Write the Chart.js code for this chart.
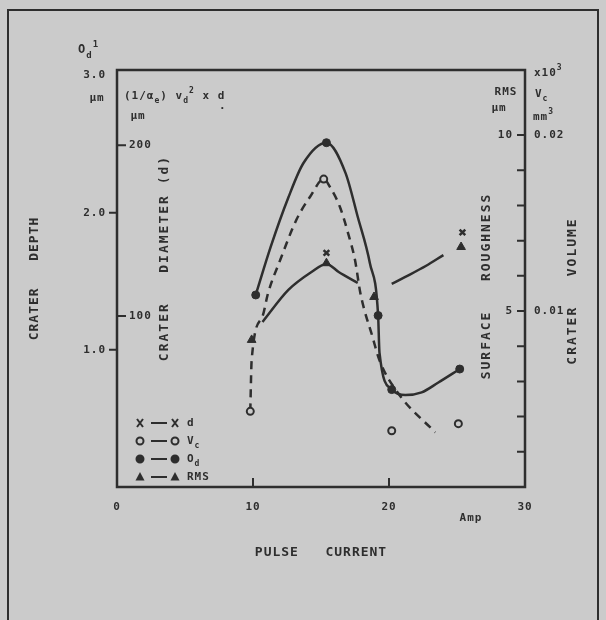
<!DOCTYPE html>
<html lang="en">
<head>
<meta charset="UTF-8">
<title>Crater size and surface roughness vs pulse current</title>
<script src="https://cdn.jsdelivr.net/npm/chart.js"></script>
<style>
  body { margin: 0; background: #cbcbcb; }
  .wrap { position: relative; width: 606px; height: 620px; }
</style>
</head>
<body>
<div class="wrap"><canvas id="chart"></canvas></div>
<script>
// values (pulse current in A)
const currentTicks = [0, 10, 20, 30];
const depthTicks = [1, 2, 3];
const diameterTicks = [100, 200];
const rmsTicks = [1, 2, 3, 4, 5, 6, 7, 8, 9, 10];
const rmsLabelled = [5, 10];
const volumeTicks = [0.01, 0.02];

// crater depth (filled circles, solid curve)
const depthX = [10.2, 15.4, 19.2, 20.2, 25.2];
const depthY = [1.40, 2.51, 1.25, 0.71, 0.86];
const depthCurveX = [10.2, 11.3, 12.6, 13.7, 15.4, 16.8, 17.7, 18.6, 19.2, 19.3, 20.2, 21.2, 22.4, 23.6, 25.2];
const depthCurveY = [1.40, 1.75, 2.11, 2.36, 2.51, 2.29, 1.97, 1.63, 1.25, 0.98, 0.71, 0.67, 0.69, 0.76, 0.86];

// crater volume (open circles, dashed curve)
const volumeX = [9.8, 15.2, 20.2, 25.1];
const volumeY = [0.0043, 0.0175, 0.0032, 0.0036];
const volumeCurveX = [9.8, 9.9, 10.7, 11.1, 12.0, 13.2, 14.2, 15.2, 15.7, 16.4, 17.0, 17.5, 17.9, 18.8, 19.3, 20.7, 23.4];
const volumeCurveY = [0.0043, 0.0072, 0.0097, 0.0110, 0.0129, 0.0152, 0.0165, 0.0175, 0.0170, 0.0159, 0.0144, 0.0129, 0.0110, 0.0085, 0.0072, 0.0053, 0.0031];

// surface roughness RMS (triangles, solid curve with a break)
const rmsX = [9.9, 15.4, 18.9, 25.3];
const rmsY = [4.18, 6.36, 5.40, 6.82];
const rmsCurveX = [10.7, 12.6, 14.3, 15.4, 16.3, 17.7, 19.0, 20.2, 21.2, 22.7, 24.0];
const rmsCurveY = [4.69, 5.60, 6.11, 6.34, 6.11, 5.80, null, 5.77, 5.97, 6.28, 6.59];

// crater diameter d
const diameterX = [15.4, 25.4];
const diameterY = [137, 149];

const ink = '#2e2e2e';
const paper = '#cbcbcb';
const mono = '"DejaVu Sans Mono", monospace';

function pts(xs, ys) {
  return xs.map((x, i) => ({ x: x, y: ys[i] }));
}

function vText(ctx, text, x, y) {
  ctx.save();
  ctx.translate(x, y);
  ctx.rotate(-Math.PI / 2);
  ctx.textAlign = 'center';
  ctx.textBaseline = 'middle';
  ctx.fillText(text, 0, 0);
  ctx.restore();
}

// text with sub (-1) and superscript (+1) pieces
function rich(ctx, parts, x, y, size) {
  let cx = x;
  parts.forEach(([t, s]) => {
    const fs = s ? Math.round(size * 0.75) : size;
    ctx.font = 'bold ' + fs + 'px ' + mono;
    ctx.fillText(t, cx, y - s * size * 0.45);
    cx += ctx.measureText(t).width;
  });
}

function symbol(ctx, kind, x, y) {
  ctx.beginPath();
  if (kind === 'filled' || kind === 'open') {
    ctx.arc(x, y, 3.5, 0, Math.PI * 2);
    ctx.fillStyle = kind === 'filled' ? ink : paper;
    ctx.fill();
    ctx.stroke();
  } else if (kind === 'tri') {
    ctx.moveTo(x, y - 5); ctx.lineTo(x + 4.5, y + 3.5); ctx.lineTo(x - 4.5, y + 3.5);
    ctx.closePath();
    ctx.fillStyle = ink;
    ctx.fill();
  } else {
    ctx.moveTo(x - 3, y - 4); ctx.lineTo(x + 3, y + 4);
    ctx.moveTo(x + 3, y - 4); ctx.lineTo(x - 3, y + 4);
    ctx.stroke();
  }
}

const marks = {
  id: 'marks',
  beforeDraw(chart) {
    chart.ctx.letterSpacing = '1px';
  },
  beforeDatasetsDraw(chart) {
    const { ctx, chartArea: a, scales } = chart;
    ctx.save();
    ctx.strokeStyle = ink;
    ctx.lineWidth = 2.5;
    ctx.strokeRect(a.left, a.top, a.right - a.left, a.bottom - a.top);
    ctx.lineWidth = 2;
    ctx.beginPath();
    currentTicks.filter(v => v > 0 && v < 30).forEach(v => {
      const px = scales.x.getPixelForValue(v);
      ctx.moveTo(px, a.bottom); ctx.lineTo(px, a.bottom - 9);
    });
    depthTicks.filter(v => v < 3).forEach(v => {
      const py = scales.yOa.getPixelForValue(v);
      ctx.moveTo(a.left, py); ctx.lineTo(a.left - 8, py);
    });
    diameterTicks.forEach(v => {
      const py = scales.yD.getPixelForValue(v);
      ctx.moveTo(a.left, py); ctx.lineTo(a.left + 9, py);
    });
    rmsTicks.forEach(v => {
      const py = scales.yR.getPixelForValue(v);
      ctx.moveTo(a.right, py); ctx.lineTo(a.right - 8, py);
    });
    ctx.stroke();
    ctx.restore();
  },
  afterDraw(chart) {
    const ctx = chart.ctx;
    ctx.save();
    ctx.fillStyle = ink;
    ctx.strokeStyle = ink;

    // page frame of the scan
    ctx.lineWidth = 2;
    ctx.beginPath();
    ctx.moveTo(8, 620); ctx.lineTo(8, 10); ctx.lineTo(598, 10); ctx.lineTo(598, 620);
    ctx.stroke();

    ctx.font = 'bold 13px ' + mono;
    ctx.letterSpacing = '2px';
    vText(ctx, 'CRATER   DIAMETER (d)', 165, 258);
    vText(ctx, 'SURFACE   ROUGHNESS', 487, 286);
    vText(ctx, 'CRATER   VOLUME', 573, 291);

    ctx.letterSpacing = '1px';
    ctx.textAlign = 'center';
    ctx.textBaseline = 'middle';
    ctx.font = 'bold 11px ' + mono;
    ctx.fillText('Amp', 471, 518);
    ctx.fillText('\u03bcm', 97, 98);
    ctx.fillText('\u03bcm', 138, 116);
    ctx.fillText('RMS', 506, 92);
    ctx.fillText('\u03bcm', 499, 108);

    ctx.textAlign = 'left';
    rich(ctx, [['O', 0], ['d', -1], ['1', 1]], 78, 50, 12);
    rich(ctx, [['(1/\u03b1', 0], ['e', -1], [') v', 0], ['d', -1], ['2', 1], [' x d', 0]], 124, 96, 11);
    ctx.fillText('.', 219, 106);
    rich(ctx, [['x10', 0], ['3', 1]], 534, 73, 11);
    rich(ctx, [['V', 0], ['c', -1]], 535, 94, 11);
    rich(ctx, [['mm', 0], ['3', 1]], 533, 117, 11);

    // legend
    const rows = [
      ['cross', [['d', 0]]],
      ['open', [['V', 0], ['c', -1]]],
      ['filled', [['O', 0], ['d', -1]]],
      ['tri', [['RMS', 0]]]
    ];
    ctx.lineWidth = 2;
    rows.forEach(([kind, label], i) => {
      const y = 423 + i * 18;
      symbol(ctx, kind, 140, y);
      ctx.beginPath();
      ctx.moveTo(151, y); ctx.lineTo(167, y);
      ctx.stroke();
      symbol(ctx, kind, 175, y);
      ctx.fillStyle = ink;
      rich(ctx, label, 187, y, 11);
    });
    ctx.restore();
  }
};

const tickFont = { family: mono, size: 11, weight: 'bold' };
const noGrid = { display: false, drawTicks: false };

new Chart(document.getElementById('chart'), {
  type: 'line',
  data: {
    datasets: [
      { data: pts(diameterX, diameterY), yAxisID: 'yD', showLine: false, pointStyle: 'crossRot',
        pointRadius: 4, borderColor: ink, pointBorderWidth: 2.5 },
      { data: pts(rmsX, rmsY), yAxisID: 'yR', showLine: false, pointStyle: 'triangle',
        pointRadius: 5, backgroundColor: ink, borderColor: ink },
      { data: pts(depthX, depthY), yAxisID: 'yOa', showLine: false, pointStyle: 'circle',
        pointRadius: 4, backgroundColor: ink, borderColor: ink },
      { data: pts(volumeX, volumeY), yAxisID: 'yV', showLine: false, pointStyle: 'circle',
        pointRadius: 3.5, backgroundColor: paper, borderColor: ink, pointBorderWidth: 2 },
      { data: pts(depthCurveX, depthCurveY), yAxisID: 'yOa', borderColor: ink, borderWidth: 2.5,
        pointRadius: 0, cubicInterpolationMode: 'monotone' },
      { data: pts(volumeCurveX, volumeCurveY), yAxisID: 'yV', borderColor: ink, borderWidth: 2.5,
        borderDash: [8, 6], pointRadius: 0, cubicInterpolationMode: 'monotone' },
      { data: pts(rmsCurveX, rmsCurveY), yAxisID: 'yR', borderColor: ink, borderWidth: 2.5,
        pointRadius: 0, cubicInterpolationMode: 'monotone', spanGaps: false }
    ]
  },
  options: {
    responsive: true,
    maintainAspectRatio: false,
    animation: false,
    events: [],
    layout: { padding: { left: 23, right: 31, top: 70, bottom: 56 } },
    plugins: { legend: { display: false }, tooltip: { enabled: false } },
    scales: {
      x: {
        type: 'linear', min: 0, max: 30,
        afterBuildTicks: s => { s.ticks = currentTicks.map(v => ({ value: v })); },
        afterFit: s => { s.height = 77; },
        grid: noGrid, border: { display: false },
        ticks: { color: ink, font: tickFont, padding: 14, maxRotation: 0 },
        title: { display: true, text: 'PULSE   CURRENT', color: ink,
          font: { family: mono, size: 13, weight: 'bold' } }
      },
      yOa: {
        position: 'left', weight: 1, min: 0, max: 3.04,
        afterBuildTicks: s => { s.ticks = depthTicks.map(v => ({ value: v })); },
        afterFit: s => { s.width = 94; },
        grid: noGrid, border: { display: false },
        ticks: { color: ink, font: tickFont, padding: 11, callback: v => v.toFixed(1) },
        title: { display: true, text: 'CRATER   DEPTH', color: ink,
          font: { family: mono, size: 13, weight: 'bold' } }
      },
      yD: {
        position: 'left', weight: 0, min: 0, max: 244,
        afterBuildTicks: s => { s.ticks = diameterTicks.map(v => ({ value: v })); },
        afterFit: s => { s.width = 0; },
        grid: noGrid, border: { display: false },
        ticks: { color: ink, font: tickFont, mirror: true, padding: 12 }
      },
      yR: {
        position: 'right', weight: 0, min: 0, max: 11.85,
        afterBuildTicks: s => { s.ticks = rmsTicks.map(v => ({ value: v })); },
        afterFit: s => { s.width = 0; },
        grid: noGrid, border: { display: false },
        ticks: { color: ink, font: tickFont, mirror: true, padding: -12,
          callback: v => rmsLabelled.includes(v) ? String(v) : '' }
      },
      yV: {
        position: 'right', weight: 1, min: 0, max: 0.0237,
        afterBuildTicks: s => { s.ticks = volumeTicks.map(v => ({ value: v })); },
        afterFit: s => { s.width = 50; },
        grid: noGrid, border: { display: false },
        ticks: { color: ink, font: tickFont, padding: 9, callback: v => v.toFixed(2) }
      }
    }
  },
  plugins: [marks]
});
</script>
</body>
</html>
